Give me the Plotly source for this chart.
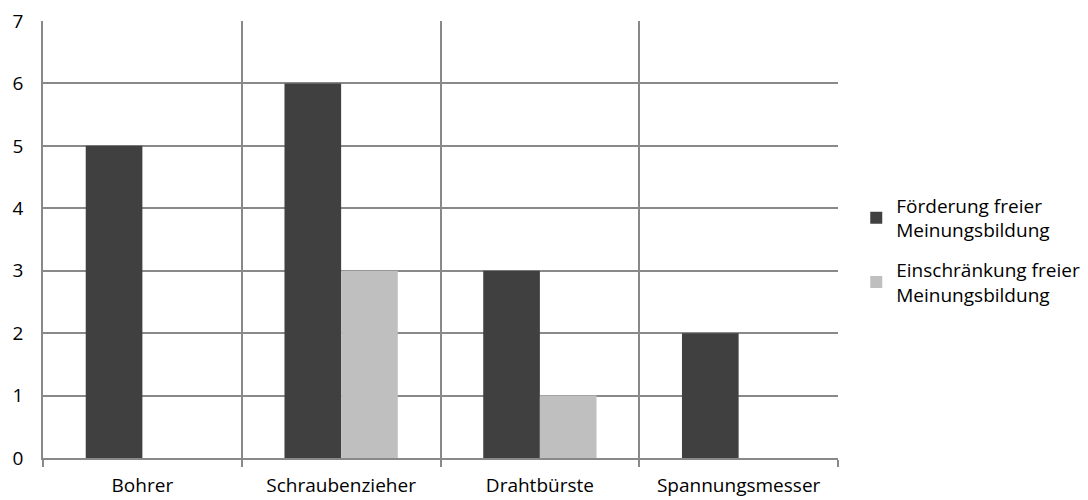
import plotly.graph_objects as go

categories = ["Bohrer", "Schraubenzieher", "Drahtbürste", "Spannungsmesser"]
foerderung = [5, 6, 3, 2]
einschraenkung = [0, 3, 1, 0]
series_names = ["Förderung freier<br>Meinungsbildung", "Einschränkung freier<br>Meinungsbildung"]
y_ticks = [0, 1, 2, 3, 4, 5, 6, 7]

FONT = "Open Sans"
GRID = "#898989"
FS = 19

fig = go.Figure()
fig.add_trace(go.Bar(x=categories, y=foerderung, name=series_names[0],
                     legendgroup="f",
                     marker=dict(color="#404040", line=dict(width=0))))
fig.add_trace(go.Bar(x=categories, y=einschraenkung, name=series_names[1],
                     legendgroup="e",
                     marker=dict(color="#bfbfbf", line=dict(width=0))))

fig.update_layout(
    width=1088, height=500,
    margin=dict(l=43, r=250, t=21, b=42, autoexpand=False),
    paper_bgcolor="white", plot_bgcolor="white",
    barmode="group", bargap=0.43, bargroupgap=0,
    font=dict(family=FONT, size=FS, color="#000000"),
    showlegend=True,
    legend=dict(xref="container", yref="container", x=0.787, y=0.5,
                xanchor="left", yanchor="middle",
                font=dict(family=FONT, size=FS), tracegroupgap=12,
                itemwidth=30),
    xaxis=dict(type="category", tickson="boundaries", showgrid=True,
               gridcolor=GRID, gridwidth=1.5, showline=True, linecolor=GRID,
               linewidth=1.5, ticks="outside", ticklen=7, tickcolor=GRID,
               tickwidth=1.5, mirror=False, ticklabelstandoff=9,
               automargin=False),
    yaxis=dict(range=[0, 7], tickvals=y_ticks, showgrid=True, gridcolor=GRID,
               gridwidth=1.5, showline=True, linecolor=GRID, linewidth=1.5,
               ticks="", zeroline=False, ticklabelstandoff=14,
               automargin=False),
)

fig.write_html("out.html")
